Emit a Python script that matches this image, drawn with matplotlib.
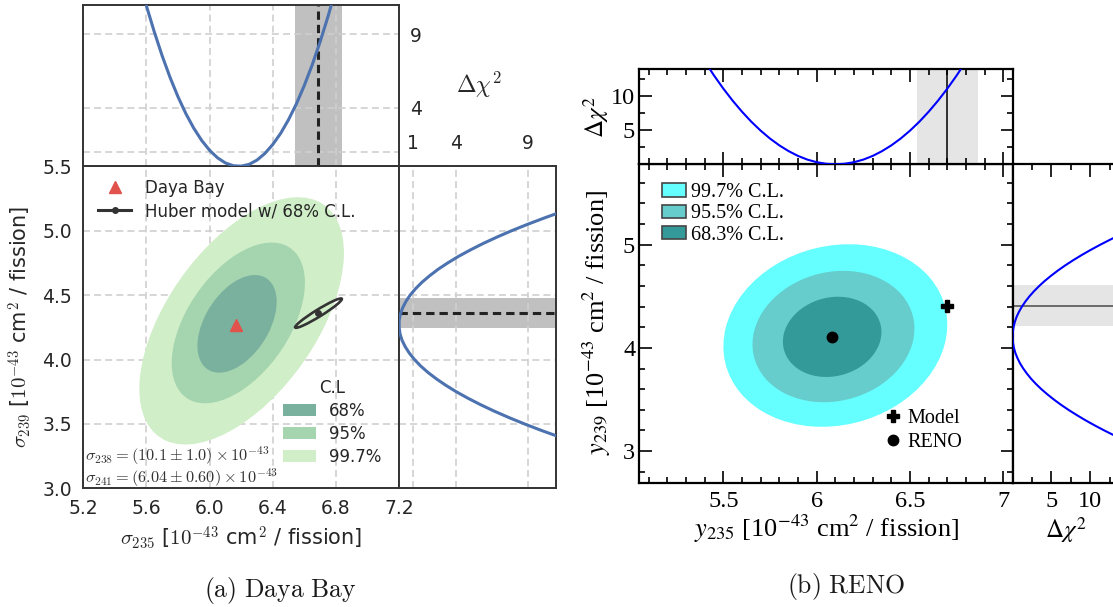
import numpy as np
import matplotlib
matplotlib.use("Agg")
import matplotlib.pyplot as plt
from matplotlib.patches import Ellipse, Patch
from matplotlib.lines import Line2D
from matplotlib.ticker import MultipleLocator, FixedLocator

plt.rcParams['lines.scale_dashes'] = False
plt.rcParams['font.family'] = ['DejaVu Sans']
plt.rcParams['mathtext.fontset'] = 'cm'

# ------------------------------------------------------------------ data
# (a) Daya Bay
db_point = (6.17, 4.27)
huber_center = (6.69, 4.36)
huber_err = (0.148, 0.114)
huber_rho = 0.96
db_levels = ['68%', '95%', '99.7%']
db_cx = [6.174, 6.182, 6.203]
db_cy = [4.277, 4.284, 4.300]
db_hx = [0.251, 0.422, 0.648]
db_hy = [0.379, 0.624, 0.960]
db_rho = [0.45, 0.50, 0.55]
db_colors = ['#7ab09e', '#a5d5af', '#d0eec8']

db_s235 = [5.55, 5.60, 5.65, 5.70, 5.75, 5.80, 5.85, 5.90, 5.95, 6.00, 6.05, 6.10, 6.15,
           6.20, 6.25, 6.30, 6.35, 6.40, 6.45, 6.50, 6.55, 6.60, 6.65, 6.70, 6.75, 6.80]
db_chi2_235 = [12.87, 10.92, 9.14, 7.51, 6.04, 4.73, 3.58, 2.59, 1.76, 1.09, 0.58, 0.23, 0.04,
               0.01, 0.13, 0.42, 0.87, 1.48, 2.24, 3.17, 4.25, 5.50, 6.90, 8.47, 10.19, 12.07]

db_s239 = [3.35, 3.40, 3.45, 3.50, 3.55, 3.60, 3.65, 3.70, 3.75, 3.80, 3.85, 3.90, 3.95,
           4.00, 4.05, 4.10, 4.15, 4.20, 4.25, 4.30, 4.35, 4.40, 4.45, 4.50, 4.55, 4.60,
           4.65, 4.70, 4.75, 4.80, 4.85, 4.90, 4.95, 5.00, 5.05, 5.10, 5.15, 5.20]
db_chi2_239 = [12.52, 11.19, 9.94, 8.77, 7.67, 6.64, 5.69, 4.81, 4.00, 3.27, 2.61, 2.02, 1.51,
               1.08, 0.72, 0.43, 0.21, 0.07, 0.01, 0.01, 0.09, 0.25, 0.48, 0.78, 1.16, 1.61,
               2.14, 2.73, 3.41, 4.15, 4.98, 5.87, 6.84, 7.88, 9.00, 10.19, 11.45, 12.79]
db_x_ticks = [5.2, 5.6, 6.0, 6.4, 6.8, 7.2]
db_y_ticks = [3.0, 3.5, 4.0, 4.5, 5.0, 5.5]
db_chi_ticks = [1, 4, 9]
db_chi_ticklabels_top = ['', '4', '9']

# (b) RENO
reno_point = (6.08, 4.11)
reno_model = (6.70, 4.41)
reno_model_err = (0.163, 0.196)
reno_levels = ['99.7% C.L.', '95.5% C.L.', '68.3% C.L.']
reno_cx = [6.100, 6.090, 6.083]
reno_cy = [4.120, 4.110, 4.107]
reno_hx = [0.600, 0.434, 0.264]
reno_hy = [0.885, 0.637, 0.389]
reno_rho = [0.12, 0.12, 0.12]
reno_colors = ['#66ffff', '#66cccc', '#339999']

reno_y235 = [5.40, 5.45, 5.50, 5.55, 5.60, 5.65, 5.70, 5.75, 5.80, 5.85, 5.90, 5.95, 6.00,
             6.05, 6.10, 6.15, 6.20, 6.25, 6.30, 6.35, 6.40, 6.45, 6.50, 6.55, 6.60, 6.65,
             6.70, 6.75, 6.80]
reno_chi2_235 = [15.12, 13.04, 11.11, 9.34, 7.72, 6.25, 4.94, 3.78, 2.78, 1.93, 1.23, 0.69, 0.31,
                 0.08, 0.00, 0.08, 0.31, 0.69, 1.23, 1.93, 2.78, 3.78, 4.94, 6.25, 7.72, 9.34,
                 11.11, 13.04, 15.12]
reno_y239 = [3.10, 3.15, 3.20, 3.25, 3.30, 3.35, 3.40, 3.45, 3.50, 3.55, 3.60, 3.65, 3.70,
             3.75, 3.80, 3.85, 3.90, 3.95, 4.00, 4.05, 4.10, 4.15, 4.20, 4.25, 4.30, 4.35,
             4.40, 4.45, 4.50, 4.55, 4.60, 4.65, 4.70, 4.75, 4.80, 4.85, 4.90, 4.95, 5.00,
             5.05, 5.10]
reno_chi2_239 = [14.53, 13.12, 11.79, 10.53, 9.34, 8.23, 7.18, 6.20, 5.30, 4.47, 3.70, 3.01, 2.39,
                 1.85, 1.37, 0.96, 0.63, 0.36, 0.17, 0.05, 0.00, 0.02, 0.12, 0.28, 0.51, 0.82,
                 1.20, 1.65, 2.17, 2.76, 3.42, 4.15, 4.96, 5.83, 6.78, 7.80, 8.89, 10.05, 11.28,
                 12.58, 13.96]
reno_chi_ticks = [5, 10]

# ------------------------------------------------------------------ helpers
W, H = 1113, 607
fig = plt.figure(figsize=(W / 100, H / 100), dpi=100)


def box(x0, y0, x1, y1):
    return [x0 / W, 1 - y1 / H, (x1 - x0) / W, (y1 - y0) / H]


def fp(x, y):
    return (x / W, 1 - y / H)


def ellipse_from(cx, cy, hx, hy, rho, **kw):
    cov = np.array([[hx * hx, rho * hx * hy], [rho * hx * hy, hy * hy]])
    vals, vecs = np.linalg.eigh(cov)
    order = vals.argsort()[::-1]
    vals, vecs = vals[order], vecs[:, order]
    angle = np.degrees(np.arctan2(vecs[1, 0], vecs[0, 0]))
    return Ellipse((cx, cy), 2 * np.sqrt(vals[0]), 2 * np.sqrt(vals[1]), angle=angle, **kw)


# ================================================================== (a) Daya Bay
GRID = dict(color='#cfcfcf', linestyle=(0, (5, 3)), linewidth=1.2)
TXT = '#262626'
BLUE = '#4c72b0'
RED = '#e0524b'

axA = fig.add_axes(box(83.3, 166.3, 399.0, 488.3))
axAt = fig.add_axes(box(83.3, 4.7, 399.0, 166.3), sharex=axA)
axAr = fig.add_axes(box(399.0, 166.3, 556.3, 488.3), sharey=axA)

for ax in (axA, axAt, axAr):
    ax.set_axisbelow(True)
    ax.grid(True, **GRID)
    for s in ax.spines.values():
        s.set_color('#333333')
        s.set_linewidth(1.4)
    ax.tick_params(length=0, labelsize=13.5, colors=TXT, pad=8)

axA.set_xlim(5.2, 7.2)
axA.set_ylim(3.0, 5.5)
axA.set_xticks(db_x_ticks)
axA.set_yticks(db_y_ticks)
axA.xaxis.set_major_formatter('{x:.1f}')
axA.yaxis.set_major_formatter('{x:.1f}')

for i in [2, 1, 0]:
    axA.add_patch(ellipse_from(db_cx[i], db_cy[i], db_hx[i], db_hy[i], db_rho[i],
                               facecolor=db_colors[i], edgecolor='none', zorder=1))
axA.add_patch(ellipse_from(huber_center[0], huber_center[1], huber_err[0], huber_err[1],
                           huber_rho, facecolor='none', edgecolor='#333333', lw=1.9, zorder=4))
axA.plot([huber_center[0]], [huber_center[1]], 'o', color='#333333', ms=4, zorder=5)
axA.plot([db_point[0]], [db_point[1]], '^', color=RED, ms=9, zorder=5)

leg1 = axA.legend(handles=[Line2D([], [], ls='none', marker='^', color=RED, ms=9),
                           Line2D([], [], color='#333333', lw=2.2, marker='o', ms=4)],
                  labels=['Daya Bay', 'Huber model w/ 68% C.L.'],
                  loc='upper left', bbox_to_anchor=fp(98, 179), bbox_transform=fig.transFigure,
                  frameon=False, fontsize=12, borderpad=0, borderaxespad=0,
                  handlelength=2.0, handletextpad=0.8, labelspacing=0.3)
for t in leg1.get_texts():
    t.set_color(TXT)
axA.add_artist(leg1)

leg2 = axA.legend(handles=[Patch(facecolor=c, edgecolor='none') for c in db_colors],
                  labels=db_levels, title='C.L', loc='upper left',
                  bbox_to_anchor=fp(282.7, 379), bbox_transform=fig.transFigure,
                  frameon=False, fontsize=12, title_fontsize=12, borderpad=0, borderaxespad=0,
                  handlelength=2.0, handletextpad=0.8, labelspacing=0.3)
for t in leg2.get_texts():
    t.set_color(TXT)
leg2.get_title().set_color(TXT)

# top marginal
axAt.set_ylim(0, 11)
axAt.yaxis.tick_right()
axAt.set_yticks(db_chi_ticks)
axAt.set_yticklabels(db_chi_ticklabels_top)
axAt.tick_params(labelbottom=False)
axAt.plot(db_s235, db_chi2_235, color=BLUE, lw=2.2, zorder=3)
axAt.axvspan(huber_center[0] - huber_err[0], huber_center[0] + huber_err[0],
             color='#c0c0c0', lw=0, zorder=0.3)
axAt.axvline(huber_center[0], color='#222222', lw=2.2, ls=(0, (6, 3.6)), zorder=2)

# right marginal
axAr.set_xlim(0, 11)
axAr.xaxis.tick_top()
axAr.set_xticks(db_chi_ticks)
axAr.tick_params(labelleft=False, labeltop=True, labelbottom=False, pad=9.5)
axAr.plot(db_chi2_239, db_s239, color=BLUE, lw=2.2, zorder=3)
axAr.axhspan(huber_center[1] - huber_err[1], huber_center[1] + huber_err[1],
             color='#c0c0c0', lw=0, zorder=0.3)
axAr.axhline(huber_center[1], color='#222222', lw=2.2, ls=(0, (6, 3.6)), zorder=2)

fig.text(*fp(241, 538), r'$\sigma_{235}$ [$10^{-43}$ cm$^2$ / fission]', ha='center', va='center',
         fontsize=15, color=TXT)
fig.text(*fp(20, 327), r'$\sigma_{239}$ [$10^{-43}$ cm$^2$ / fission]', ha='center', va='center',
         fontsize=15, color=TXT, rotation=90)
fig.text(*fp(479, 85), r'$\Delta\chi^2$', ha='center', va='center', fontsize=17, color=TXT)
fig.text(*fp(85, 456), r'$\sigma_{238} = (10.1 \pm 1.0) \times 10^{-43}$', ha='left', va='center',
         fontsize=11.8, color='#333333')
fig.text(*fp(85, 478), r'$\sigma_{241} = (6.04 \pm 0.60) \times 10^{-43}$', ha='left', va='center',
         fontsize=11.8, color='#333333')
fig.text(*fp(280, 590), r'$\mathrm{(a)\ Daya\ Bay}$', ha='center', va='center', fontsize=18.5,
         color='#1a1a1a')

# ================================================================== (b) RENO
SERIF = 'Liberation Serif'
axB = fig.add_axes(box(639.4, 164.3, 1012.6, 483.0))
axBt = fig.add_axes(box(639.4, 69.0, 1012.6, 164.3), sharex=axB)
axBr = fig.add_axes(box(1012.6, 164.3, 1172.6, 483.0), sharey=axB)

for ax in (axB, axBt, axBr):
    for s in ax.spines.values():
        s.set_linewidth(1.6)
        s.set_color('black')
    ax.tick_params(which='both', direction='in', width=1.2, colors='black', labelsize=17.5)
    ax.tick_params(which='major', length=9)
    ax.tick_params(which='minor', length=4.5)

axB.set_xlim(5.05, 7.05)
axB.set_ylim(2.69, 5.78)
axB.xaxis.set_major_locator(MultipleLocator(0.5))
axB.xaxis.set_minor_locator(MultipleLocator(0.1))
axB.yaxis.set_major_locator(MultipleLocator(1.0))
axB.yaxis.set_minor_locator(MultipleLocator(0.2))
axB.xaxis.set_major_formatter('{x:g}')
axB.yaxis.set_major_formatter('{x:g}')
axB.tick_params(which='both', top=True, right=True)
axB.tick_params(axis='x', pad=6)
axB.tick_params(axis='y', pad=3)

for i in range(3):
    axB.add_patch(ellipse_from(reno_cx[i], reno_cy[i], reno_hx[i], reno_hy[i], reno_rho[i],
                               facecolor=reno_colors[i], edgecolor='none', zorder=1 + i))
axB.plot([reno_model[0]], [reno_model[1]], 'P', color='black', ms=8, zorder=6)
axB.plot([reno_point[0]], [reno_point[1]], 'o', color='black', ms=7.5, zorder=6)

legB1 = axB.legend(handles=[Patch(facecolor=c, edgecolor='#444444', lw=1.2) for c in reno_colors],
                   labels=reno_levels, loc='upper left', bbox_to_anchor=fp(662.3, 183),
                   bbox_transform=fig.transFigure, frameon=False,
                   prop={'family': SERIF, 'size': 14.5}, borderpad=0, borderaxespad=0,
                   handlelength=1.18, handleheight=0.63, handletextpad=0.25, labelspacing=0.12)
axB.add_artist(legB1)
legB2 = axB.legend(handles=[Line2D([], [], ls='none', marker='P', color='black', ms=8),
                            Line2D([], [], ls='none', marker='o', color='black', ms=7.5)],
                   labels=['Model', 'RENO'], loc='upper left', bbox_to_anchor=fp(883, 409),
                   bbox_transform=fig.transFigure, frameon=False,
                   prop={'family': SERIF, 'size': 14.5}, borderpad=0, borderaxespad=0,
                   handlelength=1.0, handletextpad=0.22, labelspacing=0.23)

# top marginal
axBt.set_ylim(0, 14)
axBt.yaxis.set_major_locator(FixedLocator(reno_chi_ticks))
axBt.yaxis.set_minor_locator(MultipleLocator(2.5))
axBt.yaxis.set_major_formatter('{x:g}')
axBt.tick_params(which='both', top=True, right=True, labelbottom=False)
axBt.tick_params(axis='y', pad=3)
axBt.axvspan(reno_model[0] - reno_model_err[0], reno_model[0] + reno_model_err[0],
             color='#e5e5e5', lw=0, zorder=0.5)
axBt.axvline(reno_model[0], color='black', lw=1.1, zorder=2)
axBt.plot(reno_y235, reno_chi2_235, color='blue', lw=1.5, zorder=3)

# right marginal
axBr.set_xlim(0, 20.6)
axBr.xaxis.set_major_locator(FixedLocator(reno_chi_ticks))
axBr.xaxis.set_minor_locator(MultipleLocator(2.5))
axBr.xaxis.set_major_formatter('{x:g}')
axBr.tick_params(which='both', top=True, left=False, right=False, labelleft=False)
axBr.tick_params(axis='x', pad=6)
axBr.axhspan(reno_model[1] - reno_model_err[1], reno_model[1] + reno_model_err[1],
             color='#e5e5e5', lw=0, zorder=0.5)
axBr.axhline(reno_model[1], color='#555555', lw=1.2, zorder=2)
axBr.plot(reno_chi2_239, reno_y239, color='blue', lw=1.5, zorder=3)

for ax in (axB, axBt, axBr):
    for lbl in (ax.get_xticklabels(which='both') + ax.get_yticklabels(which='both')):
        lbl.set_fontfamily(SERIF)

kwB = dict(family=SERIF, math_fontfamily='stix', color='black')
fig.text(*fp(826, 529), r'$y_{235}$ [10$^{-43}$ cm$^2$ / fission]', ha='center', va='center',
         fontsize=19, **kwB)
fig.text(*fp(597, 323), r'$y_{239}$ [10$^{-43}$ cm$^2$ / fission]', ha='center', va='center',
         fontsize=19, rotation=90, **kwB)
fig.text(*fp(596, 117), r'$\Delta\chi^2$', ha='center', va='center', fontsize=18, rotation=90, **kwB)
fig.text(*fp(1066, 530), r'$\Delta\chi^2$', ha='center', va='center', fontsize=18, **kwB)
fig.text(*fp(846.5, 587), r'$\mathrm{(b)\ RENO}$', ha='center', va='center', fontsize=18.5,
         color='#1a1a1a')

fig.savefig('out.png', dpi=100)
